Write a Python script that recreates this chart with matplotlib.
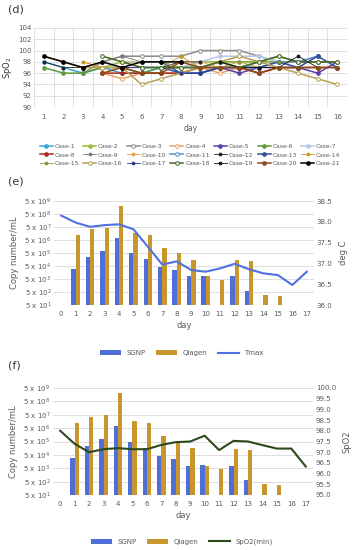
import numpy as np
import matplotlib
matplotlib.use("Agg")
import matplotlib.pyplot as plt

nan = np.nan

# ---- panel (d): SpO2 per case ----
spo2_days = list(range(1, 17))
case_names = [f"Case-{i}" for i in range(1, 22)]
case_values = [
    [98, 97, 96, 97, 96, 96, 97, 97, 97, 97, 97, 97, nan, nan, nan, nan],
    [nan, nan, 97, 97, 98, 97, 97, 97, 98, 98, 98, 98, 98, nan, nan, nan],
    [nan, nan, 96, 98, 99, 99, 99, 99, 100, 100, 100, 99, 98, 98, 98, 98],
    [nan, nan, nan, 96, 95, 96, 96, 96, 97, 96, 97, 96, 97, nan, nan, nan],
    [nan, nan, nan, nan, nan, nan, nan, nan, 96, 97, 96, 97, 97, 97, 96, 98],
    [97, 96, 96, 97, 97, 96, 97, 97, 97, 98, 97, 98, 99, 98, 98, 98],
    [nan, nan, nan, 97, 97, 97, 97, 97, 98, 99, 99, 99, 98, 98, 99, nan],
    [nan, nan, nan, 96, 96, 96, 96, 96, 97, 97, 97, 96, 97, 97, 97, 97],
    [nan, nan, 97, 98, 99, 98, 98, 98, nan, nan, nan, nan, nan, nan, nan, nan],
    [nan, nan, 98, 97, 97, 97, 97, 98, 98, 97, 97, nan, nan, nan, nan, nan],
    [nan, nan, nan, nan, nan, 97, 97, 96, 96, 97, 97, 97, 98, 98, 99, nan],
    [98, 97, 97, 97, 97, 97, 97, 98, 98, nan, nan, nan, nan, nan, nan, nan],
    [nan, nan, nan, nan, nan, nan, 98, 96, 96, 97, 97, 97, 98, 97, 99, 97],
    [nan, nan, 98, 97, 97, 97, 97, 99, 97, 97, 98, 97, 97, 97, 97, 97],
    [nan, nan, nan, 99, 98, 98, 98, 97, 97, 98, 98, 98, 98, 98, 98, 98],
    [99, 98, 97, 97, 97, 94, 95, 96, 97, 98, 99, 98, 97, 96, 95, 94],
    [nan, nan, nan, nan, 97, 97, 97, 96, 96, 97, 97, nan, nan, nan, nan, nan],
    [nan, nan, nan, 99, 98, 97, 97, 97, 97, 98, 97, 98, 99, 98, 98, 98],
    [nan, nan, nan, nan, nan, nan, nan, nan, nan, 98, 97, 97, 97, 99, 97, nan],
    [nan, nan, nan, 96, 97, 96, 96, 98, 97, 97, 97, 96, 97, 97, 97, 97],
    [99, 98, 97, 98, 97, 98, 98, 98, nan, nan, nan, nan, nan, nan, nan, nan],
]
case_colors = ["#3aa6d8", "#9bbb3a", "#8c8c8c", "#f0a060", "#5a3fa8", "#5e9a3a",
               "#b8c8ec", "#b02a1a", "#7a7a7a", "#e8a040", "#5a8ad8", "#222222",
               "#2f4f9a", "#c8961e", "#7a9a40", "#b8a050", "#2a3a8a", "#4a6a2a",
               "#111111", "#8a4a1a", "#000000"]
case_open = [False, False, True, True, False, False, False, False, False, False, True,
             False, False, False, False, True, False, True, False, False, False]
case_thin = [False, False, False, False, False, False, False, False, True, True, False,
             True, False, True, True, False, True, False, True, False, False]

# ---- panels (e) and (f): viral load ----
days = list(range(0, 18))
# exponent e of 5 x 10^e (nan = no bar)
sgnp_exp = [nan, 3.77, 4.69, 5.15, 6.18, 5.0, 4.51, 3.92, 3.69, 3.2, 3.26, nan,
            3.2, 2.1, nan, nan, nan, nan]
qiagen_exp = [nan, 6.41, 6.85, 6.95, 8.64, 6.51, 6.38, 5.38, 5.0, 4.49, 3.2, 2.95,
              4.44, 4.36, 1.8, 1.72, nan, nan]
tmax = [38.15, 37.98, 37.88, 37.92, 37.94, 37.82, 37.4, 36.97, 37.05, 36.84, 36.8,
        36.88, 36.99, 36.86, 36.76, 36.72, 36.48, 36.8]
spo2_min = [98.0, 97.39, 97.0, 97.14, 97.19, 97.14, 97.14, 97.34, 97.47, 97.5, 97.77,
            97.1, 97.53, 97.5, 97.33, 97.17, 97.17, 96.33]
decades = list(range(1, 10))

SGNP_C = "#4f6fd8"
QIA_C = "#c8962c"
TXT = "#595959"
GRID = "#d9d9d9"

fig = plt.figure(figsize=(3.55, 5.5), dpi=100)
W, H = 355, 550


def ax_px(left, top, right, bottom):
    return fig.add_axes([left / W, 1 - bottom / H, (right - left) / W, (bottom - top) / H])


def clean(ax):
    for s in ax.spines.values():
        s.set_visible(False)
    ax.tick_params(length=0, labelsize=5, colors=TXT, pad=2)


# ---------- (d) ----------
fig.text(8 / W, 1 - 9 / H, "(d)", fontsize=8, color="#333333", va="center")
axd = ax_px(34, 28, 347, 107)
clean(axd)
axd.set_xlim(0.5, 16.5)
axd.set_ylim(90, 104)
axd.set_yticks(range(90, 105, 2))
axd.set_xticks(spo2_days)
axd.set_xticks(np.arange(0.5, 17, 1), minor=True)
axd.tick_params(which="minor", length=0)
axd.grid(True, axis="y", color=GRID, lw=0.6)
axd.grid(True, axis="x", which="minor", color=GRID, lw=0.6)
axd.set_axisbelow(True)
axd.tick_params(axis="x", pad=5)
axd.set_ylabel("SpO$_2$", fontsize=6, color="#333333", labelpad=3)
axd.set_xlabel("day", fontsize=5.5, color=TXT, labelpad=3)
handles = []
for name, vals, col, op, thin in zip(case_names, case_values, case_colors, case_open, case_thin):
    h, = axd.plot(spo2_days, vals, color=col, lw=0.6 if thin else 1.1,
                  marker="o", ms=2.6 if not thin else 2.0,
                  mfc="white" if op else col, mec=col, mew=0.7, label=name)
    handles.append(h)
# legend fills column by column, so reorder to read row by row
order = [r * 7 + c for c in range(7) for r in range(3)]
fig.legend(handles=[handles[i] for i in order], loc="center",
           bbox_to_anchor=(190 / W, 1 - 155 / H),
           ncol=7, fontsize=4.3, frameon=False, handlelength=2.2, handletextpad=0.3,
           columnspacing=0.7, labelspacing=0.55, labelcolor=TXT)


def viral(ax, line_vals, line_color, ylim, yticks, fmt, rlabel, lname):
    clean(ax)
    x = np.array(days)
    bw = 0.3
    s = np.array(sgnp_exp)
    q = np.array(qiagen_exp)
    ax.bar(x - bw / 2, s - 1, bw, bottom=1, color=SGNP_C, label="SGNP")
    ax.bar(x + bw / 2, q - 1, bw, bottom=1, color=QIA_C, label="Qiagen")
    ax.set_xlim(-0.5, 17.5)
    ax.set_ylim(1, 9)
    ax.set_yticks(decades)
    ax.set_yticklabels([f"5 x 10$^{{{d}}}$" for d in decades])
    ax.set_xticks(days)
    ax.grid(True, axis="y", color=GRID, lw=0.6)
    ax.set_axisbelow(True)
    ax.set_ylabel("Copy number/mL", fontsize=6, color=TXT, labelpad=4)
    ax.set_xlabel("day", fontsize=6, color=TXT, labelpad=3)
    ax.tick_params(axis="x", pad=4)
    ax2 = ax.twinx()
    clean(ax2)
    ax2.plot(days, line_vals, color=line_color, lw=1.5, label=lname)
    ax2.set_ylim(*ylim)
    ax2.set_yticks(yticks)
    ax2.set_yticklabels([fmt % v for v in yticks])
    ax2.set_ylabel(rlabel, fontsize=6, color=TXT, labelpad=5)
    h1, l1 = ax.get_legend_handles_labels()
    h2, l2 = ax2.get_legend_handles_labels()
    return h1 + h2, l1 + l2


# ---------- (e) ----------
fig.text(8 / W, 1 - 181 / H, "(e)", fontsize=8, color="#333333", va="center")
axe = ax_px(54, 201, 314, 305)
hs, ls = viral(axe, tmax, "#4f72e0", (36.0, 38.5), np.arange(36.0, 38.51, 0.5), "%.1f",
               "deg C", "Tmax")
fig.legend(hs, ls, loc="center", bbox_to_anchor=(182 / W, 1 - 353 / H), ncol=3,
           fontsize=5, frameon=False, handlelength=3, handleheight=0.6,
           columnspacing=1.5, labelcolor=TXT)

# ---------- (f) ----------
fig.text(8 / W, 1 - 366 / H, "(f)", fontsize=8, color="#333333", va="center")
axf = ax_px(53, 388, 313, 495)
hs, ls = viral(axf, spo2_min, "#2d4a1c", (95.0, 100.0), np.arange(95.0, 100.01, 0.5), "%.1f",
               "SpO2", "SpO2(min)")
fig.legend(hs, ls, loc="center", bbox_to_anchor=(182 / W, 1 - 542 / H), ncol=3,
           fontsize=5, frameon=False, handlelength=3, handleheight=0.6,
           columnspacing=1.5, labelcolor=TXT)

fig.savefig("out.png", dpi=100, facecolor="white")
